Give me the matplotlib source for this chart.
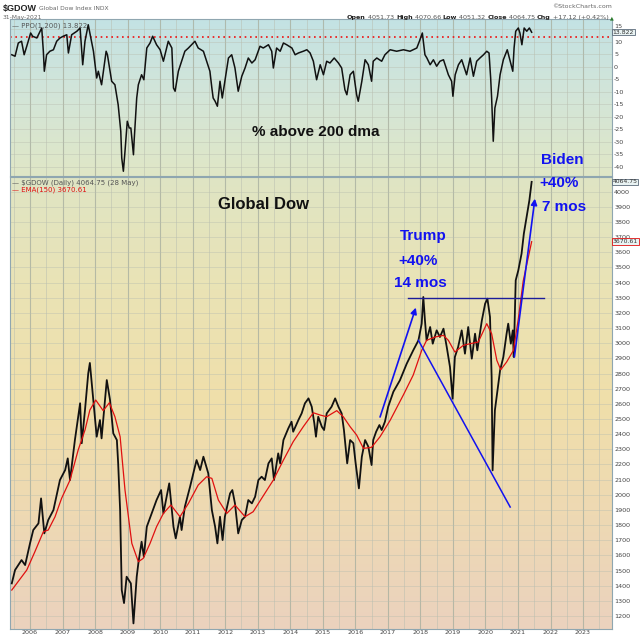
import matplotlib
matplotlib.use('Agg')
import matplotlib.pyplot as plt
import numpy as np
from matplotlib.colors import LinearSegmentedColormap
from matplotlib.ticker import FixedLocator

plt.rcParams['axes.unicode_minus'] = False

# ---- data (decimal years) ----
price_t = [2005.44, 2005.54, 2005.74, 2005.85, 2006.00, 2006.10, 2006.26, 2006.34, 2006.44, 2006.56,
           2006.72, 2006.92, 2007.08, 2007.16, 2007.23, 2007.38, 2007.54, 2007.59, 2007.69, 2007.79,
           2007.84, 2008.05, 2008.15, 2008.20, 2008.36, 2008.46, 2008.56, 2008.67, 2008.71, 2008.77,
           2008.82, 2008.89, 2008.97, 2009.10, 2009.18, 2009.28, 2009.33, 2009.43, 2009.50, 2009.59,
           2009.74, 2009.89, 2010.03, 2010.10, 2010.28, 2010.41, 2010.48, 2010.61, 2010.66, 2010.76,
           2010.92, 2011.12, 2011.23, 2011.33, 2011.48, 2011.59, 2011.69, 2011.76, 2011.84, 2011.92,
           2011.99, 2012.15, 2012.22, 2012.30, 2012.40, 2012.51, 2012.61, 2012.71, 2012.82, 2012.92,
           2013.02, 2013.12, 2013.22, 2013.33, 2013.43, 2013.50, 2013.63, 2013.69, 2013.79, 2013.94,
           2014.04, 2014.09, 2014.25, 2014.35, 2014.45, 2014.56, 2014.66, 2014.74, 2014.79, 2014.86,
           2014.97, 2015.04, 2015.12, 2015.27, 2015.38, 2015.48, 2015.58, 2015.65, 2015.71, 2015.75,
           2015.84, 2015.94, 2016.01, 2016.11, 2016.20, 2016.30, 2016.40, 2016.50, 2016.55, 2016.64,
           2016.74, 2016.81, 2016.91, 2017.01, 2017.17, 2017.37, 2017.58, 2017.78, 2017.94, 2018.04,
           2018.09, 2018.14, 2018.19, 2018.30, 2018.38, 2018.50, 2018.60, 2018.71, 2018.81, 2018.91,
           2018.99, 2019.06, 2019.16, 2019.27, 2019.37, 2019.47, 2019.58, 2019.68, 2019.75, 2019.89,
           2019.99, 2020.06, 2020.14, 2020.19, 2020.22, 2020.29, 2020.37, 2020.45, 2020.55, 2020.65,
           2020.70, 2020.78, 2020.84, 2020.87, 2020.93, 2021.01, 2021.11, 2021.18, 2021.28, 2021.35,
           2021.42]
price_v = [1415, 1503, 1569, 1536, 1679, 1767, 1811, 1976, 1745, 1833,
           1899, 2097, 2163, 2240, 2097, 2361, 2604, 2340, 2559, 2801,
           2870, 2383, 2493, 2372, 2757, 2625, 2405, 2361, 2207, 1899,
           1371, 1285, 1459, 1415, 1151, 1459, 1547, 1690, 1591, 1789,
           1877, 1965, 2031, 1877, 2075, 1789, 1712, 1855, 1767, 1921,
           2053, 2229, 2163, 2251, 2141, 1899, 1789, 1679, 1855, 1701,
           1855, 2009, 2031, 1943, 1745, 1833, 1855, 1965, 1943, 1987,
           2097, 2119, 2097, 2207, 2240, 2097, 2273, 2207, 2361, 2438,
           2482, 2416, 2493, 2537, 2603, 2636, 2581, 2471, 2383, 2515,
           2449, 2427, 2537, 2581, 2636, 2581, 2537, 2427, 2295, 2207,
           2361, 2340, 2207, 2042, 2251, 2361, 2317, 2196, 2361, 2416,
           2460, 2427, 2482, 2581, 2680, 2755, 2865, 2953, 3019, 3129,
           3305, 3151, 3019, 3107, 2997, 3085, 3041, 3096, 2975, 2843,
           2634, 2909, 2975, 3085, 2931, 3107, 2898, 3063, 2953, 3151,
           3261, 3294, 3173, 2777, 2161, 2557, 2689, 2821, 2909, 3063,
           3129, 2997, 3085, 2909, 3415, 3481, 3591, 3723, 3855, 3943,
           4065]

ema_t = [2005.44, 2005.90, 2006.15, 2006.41, 2006.56, 2006.77, 2006.97, 2007.23, 2007.48, 2007.69,
         2007.84, 2008.02, 2008.25, 2008.44, 2008.61, 2008.77, 2008.92, 2009.13, 2009.33, 2009.48,
         2009.69, 2009.89, 2010.10, 2010.33, 2010.61, 2010.87, 2011.17, 2011.43, 2011.59, 2011.79,
         2012.05, 2012.30, 2012.61, 2012.86, 2013.12, 2013.48, 2013.79, 2014.09, 2014.40, 2014.71,
         2014.92, 2015.12, 2015.43, 2015.63, 2015.84, 2016.04, 2016.25, 2016.50, 2016.76, 2017.07,
         2017.48, 2017.78, 2018.04, 2018.19, 2018.45, 2018.71, 2018.86, 2019.06, 2019.32, 2019.53,
         2019.78, 2020.04, 2020.19, 2020.35, 2020.47, 2020.65, 2020.86, 2021.01, 2021.16, 2021.42]
ema_v = [1371, 1503, 1624, 1756, 1767, 1855, 1976, 2097, 2295, 2427,
         2559, 2625, 2555, 2607, 2515, 2383, 2031, 1679, 1558, 1580,
         1679, 1789, 1877, 1932, 1855, 1943, 2064, 2119, 2108, 1965,
         1877, 1932, 1855, 1888, 1976, 2097, 2229, 2350, 2449, 2541,
         2526, 2515, 2555, 2515, 2449, 2394, 2306, 2313, 2383, 2491,
         2660, 2790, 2953, 3019, 3041, 3052, 3019, 2942, 2986, 2997,
         3008, 3129, 3063, 2887, 2825, 2876, 2953, 3160, 3410, 3670]

ppo_t = [2005.44, 2005.54, 2005.64, 2005.74, 2005.82, 2005.90, 2006.02, 2006.08, 2006.21, 2006.36,
         2006.41, 2006.44, 2006.51, 2006.61, 2006.72, 2006.82, 2006.92, 2007.02, 2007.13, 2007.18,
         2007.28, 2007.44, 2007.54, 2007.62, 2007.69, 2007.79, 2007.87, 2007.95, 2008.05, 2008.10,
         2008.20, 2008.34, 2008.38, 2008.51, 2008.61, 2008.71, 2008.79, 2008.82, 2008.87, 2008.92,
         2008.99, 2009.05, 2009.10, 2009.18, 2009.20, 2009.28, 2009.33, 2009.43, 2009.50, 2009.59,
         2009.69, 2009.77, 2009.89, 2010.00, 2010.10, 2010.25, 2010.36, 2010.41, 2010.46, 2010.56,
         2010.66, 2010.76, 2010.87, 2011.07, 2011.17, 2011.33, 2011.43, 2011.53, 2011.59, 2011.63,
         2011.69, 2011.76, 2011.84, 2011.91, 2011.99, 2012.10, 2012.20, 2012.30, 2012.40, 2012.51,
         2012.61, 2012.71, 2012.82, 2012.92, 2013.07, 2013.17, 2013.33, 2013.43, 2013.48, 2013.58,
         2013.69, 2013.79, 2013.89, 2014.05, 2014.15, 2014.25, 2014.40, 2014.51, 2014.61, 2014.71,
         2014.81, 2014.92, 2015.02, 2015.12, 2015.22, 2015.35, 2015.48, 2015.58, 2015.68, 2015.74,
         2015.84, 2015.94, 2016.04, 2016.09, 2016.20, 2016.30, 2016.40, 2016.50, 2016.55, 2016.66,
         2016.81, 2016.91, 2017.07, 2017.27, 2017.48, 2017.68, 2017.89, 2017.97, 2018.06, 2018.14,
         2018.20, 2018.30, 2018.40, 2018.50, 2018.60, 2018.71, 2018.76, 2018.86, 2018.96, 2019.00,
         2019.07, 2019.17, 2019.27, 2019.37, 2019.42, 2019.53, 2019.63, 2019.73, 2019.83, 2019.94,
         2020.04, 2020.11, 2020.16, 2020.19, 2020.22, 2020.24, 2020.29, 2020.37, 2020.45, 2020.55,
         2020.67, 2020.76, 2020.84, 2020.88, 2020.93, 2021.01, 2021.06, 2021.12, 2021.19, 2021.27,
         2021.35, 2021.42]
ppo_v = [4.8, 4.2, 9.5, 10.2, 4.8, 8.2, 13.5, 12.2, 11.5, 15.5,
         6.2, -1.8, 4.8, 6.2, 6.8, 10.2, 11.5, 12.2, 12.8, 5.5,
         12.8, 14.2, 15.5, 0.8, 10.2, 16.8, 11.5, 6.2, -4.5, -1.8,
         -7.2, 6.2, 4.8, -5.8, -7.2, -15.2, -25.8, -36.5, -41.8, -33.8,
         -21.8, -24.5, -24.5, -35.2, -29.8, -12.5, -7.2, -3.2, -5.2, 7.5,
         9.5, 12.2, 8.8, 6.8, 2.2, 10.2, 7.5, -8.5, -9.8, -1.8,
         2.2, 6.2, 7.5, 10.2, 7.5, 6.2, 2.2, -1.8, -8.5, -12.5,
         -13.8, -15.8, -5.8, -12.5, -5.8, 3.5, 4.8, -0.5, -9.8, -3.8,
         -0.5, 3.5, 1.5, 2.8, 8.2, 7.5, 8.8, 6.2, -0.5, 7.5,
         6.2, 9.5, 8.8, 7.5, 4.8, 5.5, 6.2, 6.8, 5.5, 2.2,
         -5.2, 0.8, -3.2, 2.2, 1.5, 3.5, 1.5, -0.5, -9.2, -11.2,
         -3.2, -1.8, -11.2, -13.8, -5.8, 2.8, 0.8, -5.8, 2.2, 3.5,
         2.2, 4.8, 6.8, 6.2, 6.8, 6.2, 7.5, 10.2, 13.5, 4.8,
         3.5, 0.8, 2.8, 0.2, 2.2, 2.8, 0.8, -3.2, -5.8, -11.8,
         -3.2, 0.8, 2.8, -1.2, -3.2, 3.5, -3.8, 2.2, 3.5, 4.8,
         6.2, 5.5, -4.5, -12.5, -23.2, -29.8, -16.5, -11.8, -3.2, 2.8,
         6.8, 2.2, -1.8, 7.5, 14.2, 15.5, 13.5, 8.8, 15.5, 14.2,
         15.5, 13.8]

ppo_ref = 12          # red dotted level
years = list(range(2006, 2024))
ppo_ticks = list(range(-40, 16, 5))
price_ticks = list(range(1200, 4001, 100))

# hand-drawn annotation lines (year, price)
trump_arrow = [(2016.76, 2513), (2017.86, 3235)]
drop_line = [(2017.94, 3019), (2020.76, 1919)]
resist_line = [(2017.63, 3300), (2021.80, 3300)]
biden_arrow = [(2020.89, 2909), (2021.52, 3954)]

BLUE = '#1212f0'
TXT = '#444444'
ANNO = ['Liberation Sans', 'DejaVu Sans']


def gradient(ax, colors):
    cmap = LinearSegmentedColormap.from_list('bg', colors)
    ax.imshow(np.linspace(0, 1, 256).reshape(-1, 1), cmap=cmap, aspect='auto',
              extent=(0, 1, 0, 1), transform=ax.transAxes, zorder=0)


def style(ax):
    ax.set_xlim(2005.385, 2023.89)
    ax.xaxis.set_major_locator(FixedLocator(years))
    ax.xaxis.set_minor_locator(FixedLocator([y - 0.5 for y in years] + [2023.5]))
    ax.grid(which='major', axis='x', color='#a9b0a0', lw=0.8, alpha=0.8, zorder=1)
    ax.grid(which='minor', axis='x', color='#b9beb0', lw=0.6, alpha=0.6, zorder=1)
    ax.grid(which='major', axis='y', color='#b9beb0', lw=0.5, alpha=0.6, zorder=1)
    ax.yaxis.tick_right()
    ax.tick_params(which='both', length=0, labelsize=4.6, labelcolor=TXT, pad=1.5)
    for s in ax.spines.values():
        s.set_color('#8fa6b0')
        s.set_linewidth(0.8)
    ax.set_axisbelow(True)


def value_box(ax, text, y, ec, tc):
    ax.annotate(text, xy=(1.0, y), xycoords=('axes fraction', 'data'),
                xytext=(0.5, 0), textcoords='offset points', ha='left', va='center',
                fontsize=4.4, color=tc, annotation_clip=False, zorder=10,
                bbox=dict(boxstyle='square,pad=0.12', fc='#e9f3f3', ec=ec, lw=0.6))


fig = plt.figure(figsize=(6.4, 6.4), dpi=100)
ax_top = fig.add_axes([10 / 640, 1 - 176 / 640, 602 / 640, 157 / 640])
ax = fig.add_axes([10 / 640, 1 - 629 / 640, 602 / 640, 452 / 640])

# ---- top panel: % above 200 dma ----
gradient(ax_top, ['#c3e2e4', '#d3e5d8', '#e0e7c6'])
style(ax_top)
ax_top.plot(ppo_t, ppo_v, color='#111111', lw=1.1, zorder=3)
ax_top.axhline(ppo_ref, color='#ee1111', lw=1.2, ls=(0, (1, 2.2)), zorder=2)
ax_top.set_ylim(-43.7, 19.1)
ax_top.yaxis.set_major_locator(FixedLocator(ppo_ticks))
ax_top.tick_params(axis='x', labelbottom=False)
# top "15" label sits just above the value box
ax_top.get_yticklabels()[-1].set_verticalalignment('bottom')
ax_top.text(0.004, 0.975, '\u2014 PPO(1,200) 13.822', transform=ax_top.transAxes,
            fontsize=5, color='#555555', va='top', ha='left')
ax_top.text(2014.79, -26, '% above 200 dma', fontsize=11, fontweight='bold',
            family=ANNO, ha='center', va='center', color='#111111')
value_box(ax_top, '13.822', ppo_v[-1], '#5a6a7a', '#333333')

# ---- main panel: Global Dow ----
gradient(ax, ['#dfe5c4', '#eae3b5', '#f0dfaa', '#eed9b3', '#ebd2be'])
style(ax)
ax.plot(price_t, price_v, color='#111111', lw=1.3, zorder=3)
ax.plot(ema_t, ema_v, color='#e01010', lw=0.9, zorder=4)
ax.set_ylim(1114, 4097)
ax.yaxis.set_major_locator(FixedLocator(price_ticks))
ax.set_xticks(years)
ax.set_xticklabels([str(y) for y in years])
ax.tick_params(axis='x', pad=0.8)

ax.text(0.004, 0.995, '\u2014 $GDOW (Daily) 4064.75 (28 May)', transform=ax.transAxes,
        fontsize=5, color='#555555', va='top', ha='left')
ax.text(0.004, 0.98, '\u2014 EMA(150) 3670.61', transform=ax.transAxes,
        fontsize=5, color='#e01010', va='top', ha='left')
value_box(ax, '4064.75', price_v[-1], '#5a6a7a', '#333333')
value_box(ax, '3670.61', ema_v[-1], '#e01010', '#333333')

# hand-drawn lines
ax.annotate('', xy=trump_arrow[1], xytext=trump_arrow[0], zorder=5,
            arrowprops=dict(arrowstyle='-|>', color=BLUE, lw=1.2, mutation_scale=9,
                            shrinkA=0, shrinkB=0))
ax.annotate('', xy=biden_arrow[1], xytext=biden_arrow[0], zorder=5,
            arrowprops=dict(arrowstyle='-|>', color=BLUE, lw=1.2, mutation_scale=9,
                            shrinkA=0, shrinkB=0))
ax.plot(*zip(*drop_line), color=BLUE, lw=1.1, zorder=5)
ax.plot(*zip(*resist_line), color='#1c1c9a', lw=1.0, zorder=5)

ax.text(2013.19, 3917, 'Global Dow', fontsize=12, fontweight='bold', family=ANNO,
        ha='center', va='center', color='#111111')
for s, x, y in [('Trump', 2018.08, 3706), ('+40%', 2017.94, 3543), ('14 mos', 2018.01, 3397),
                ('Biden', 2022.35, 4209), ('+40%', 2022.26, 4057), ('7 mos', 2022.42, 3901)]:
    ax.text(x, y, s, fontsize=11, fontweight='bold', family=ANNO, ha='center',
            va='center', color=BLUE, zorder=6)

# ---- header ----
r = fig.canvas.get_renderer()
t = fig.text(3 / 640, 1 - 8 / 640, '$GDOW', fontsize=6.5, fontweight='bold',
             family=ANNO, va='center', color='#222222')
x0 = t.get_window_extent(renderer=r).x1 / 640 + 2 / 640
fig.text(x0, 1 - 8.5 / 640, 'Global Dow Index INDX', fontsize=4.3, va='center', color='#666666')
fig.text(3 / 640, 1 - 17 / 640, '31-May-2021', fontsize=4.3, va='center', color='#666666')
fig.text(612 / 640, 1 - 7 / 640, '\u00a9StockCharts.com', fontsize=4.5, va='center',
         ha='right', color='#666666')

parts = [('Open', True), (' 4051.73 ', False), ('High', True), (' 4070.66 ', False),
         ('Low', True), (' 4051.32 ', False), ('Close', True), (' 4064.75 ', False),
         ('Chg', True), (' +17.12 (+0.42%) ', False)]
xs = 347 / 640
for s, bold in parts:
    tt = fig.text(xs, 1 - 17.5 / 640, s, fontsize=4.6, va='center',
                  fontweight='bold' if bold else 'normal',
                  color='#222222' if bold else '#555555')
    xs += tt.get_window_extent(renderer=r).width / 640
fig.text(xs, 1 - 17.5 / 640, '\u25b2', fontsize=3.5, va='center', color='#2a7a2a')

fig.savefig('out.png', dpi=100)
